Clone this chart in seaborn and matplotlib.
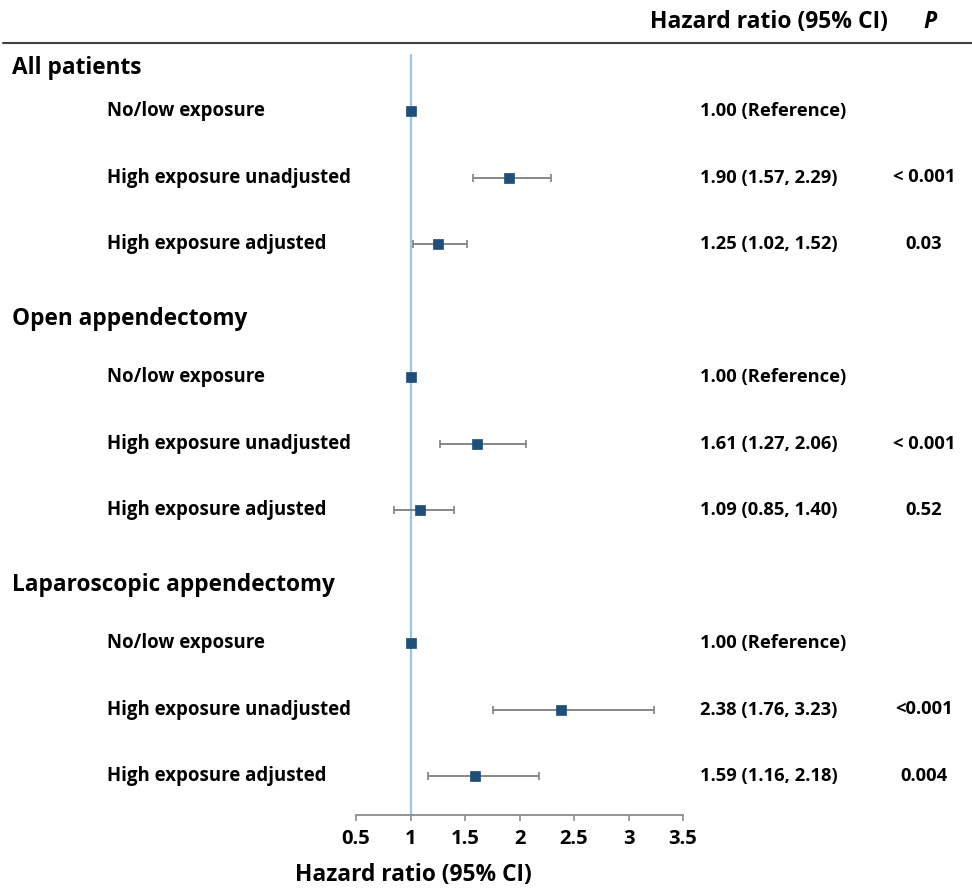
import matplotlib
matplotlib.use("Agg")
import matplotlib.pyplot as plt
import numpy as np
import pandas as pd
import seaborn as sns

# --- data ---
groups = ["All patients", "Open appendectomy", "Laparoscopic appendectomy"]
rows = ["No/low exposure", "High exposure unadjusted", "High exposure adjusted"]
hr = [1.00, 1.90, 1.25, 1.00, 1.61, 1.09, 1.00, 2.38, 1.59]
ci_low = [1.00, 1.57, 1.02, 1.00, 1.27, 0.85, 1.00, 1.76, 1.16]
ci_high = [1.00, 2.29, 1.52, 1.00, 2.06, 1.40, 1.00, 3.23, 2.18]
hr_text = ["1.00 (Reference)", "1.90 (1.57, 2.29)", "1.25 (1.02, 1.52)",
           "1.00 (Reference)", "1.61 (1.27, 2.06)", "1.09 (0.85, 1.40)",
           "1.00 (Reference)", "2.38 (1.76, 3.23)", "1.59 (1.16, 2.18)"]
p_text = ["", "< 0.001", "0.03", "", "< 0.001", "0.52", "", "<0.001", "0.004"]
xticks = [0.5, 1, 1.5, 2, 2.5, 3, 3.5]

sns.set_theme(style="white")
plt.rcParams["font.family"] = ["Open Sans", "DejaVu Sans"]
plt.rcParams["font.weight"] = "bold"
plt.rcParams["text.color"] = "black"
plt.rcParams["xtick.color"] = "black"

# each group = header + 3 rows
df = pd.DataFrame({
    "group": np.repeat(groups, 3),
    "row": rows * 3,
    "hr": hr, "lo": ci_low, "hi": ci_high,
})
df["pos"] = [g * 4 + r + 1 for g in range(3) for r in range(3)]

W, H = 972, 889
fig = plt.figure(figsize=(W / 100, H / 100), dpi=100)
ax = fig.add_axes([356 / W, 1 - 815 / H, (683 - 356) / W, (815 - 43) / H])

unit = 66.5
ax.set_ylim(1 + (815 - 111) / unit, 1 - (111 - 43) / unit)
ax.set_xlim(0.5, 3.5)

# reference line at HR = 1
ax.plot([1, 1], [1 - (111 - 55) / unit, 1 + (815 - 111) / unit],
        color="#9dc3e6", lw=1.6, zorder=1, clip_on=False)

ax.errorbar(df["hr"], df["pos"],
            xerr=[df["hr"] - df["lo"], df["hi"] - df["hr"]],
            fmt="none", ecolor="#7f7f7f", elinewidth=1.3, capsize=3, capthick=1.2, zorder=2)
sns.scatterplot(data=df, x="hr", y="pos", marker="s", s=55, color="#1f4e79",
                edgecolor="#1f4e79", linewidth=0.5, zorder=3, ax=ax, legend=False)

for s in ["top", "right", "left"]:
    ax.spines[s].set_visible(False)
ax.spines["bottom"].set_color("#8c8c8c")
ax.spines["bottom"].set_linewidth(1.3)
ax.set_yticks([])
ax.set_xticks(xticks)
ax.set_xticklabels([f"{t:g}" for t in xticks], fontsize=14.5, fontweight="bold")
ax.tick_params(axis="x", bottom=True, length=4, width=1.2, color="#8c8c8c",
               labelcolor="black", pad=6)
ax.set_ylabel("")
ax.set_xlabel("")

# text columns (figure pixel coords)
def fy(py):
    return 1 - py / H

fig.text(413 / W, fy(875), "Hazard ratio (95% CI)", fontsize=16.4, fontweight="bold",
         va="center", ha="center")

for g, name in enumerate(groups):
    top = 111 + (g * 4) * unit
    gap = 43 if g == 0 else 58
    fig.text(12 / W, fy(top - gap), name, fontsize=16.3, fontweight="bold", va="center", ha="left")

for i, r in df.iterrows():
    py = 111 + (r["pos"] - 1) * unit
    fig.text(107 / W, fy(py), r["row"], fontsize=13.4, fontweight="bold", va="center", ha="left")
    fig.text(700 / W, fy(py), hr_text[i], fontsize=13.2, fontweight="bold", va="center", ha="left")
    if p_text[i]:
        fig.text(924 / W, fy(py), p_text[i], fontsize=13.2, fontweight="bold", va="center", ha="center")

fig.text(769 / W, fy(22), "Hazard ratio (95% CI)", fontsize=16.5, fontweight="bold", va="center", ha="center")
fig.text(930 / W, fy(22), "P", fontsize=16.5, fontweight="bold", style="italic", va="center", ha="center")
fig.add_artist(plt.Line2D([3 / W, 1], [fy(43), fy(43)], color="#404040", lw=1.5))

fig.savefig("out.png", dpi=100)
